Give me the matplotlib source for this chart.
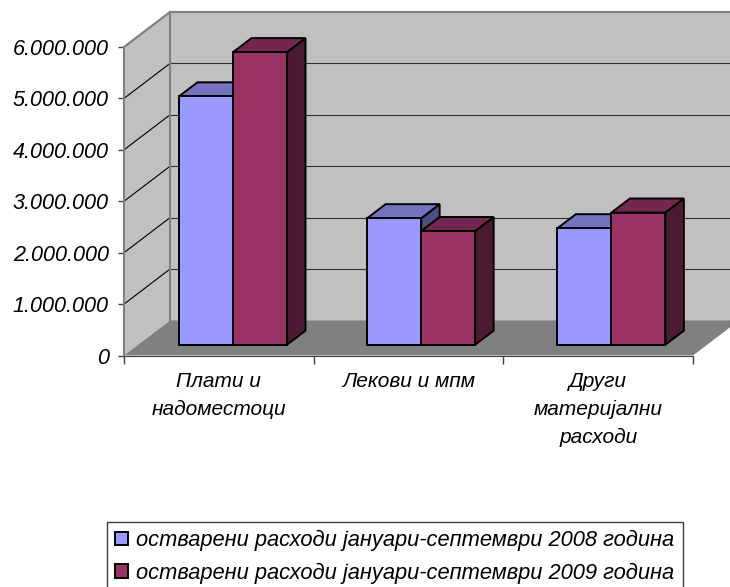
#!/usr/bin/python3
import matplotlib
matplotlib.use("Agg")
import matplotlib.pyplot as plt
from matplotlib.patches import Polygon, Patch

plt.rcParams['font.family'] = ['Liberation Sans', 'DejaVu Sans']
plt.rcParams['font.style'] = 'italic'

categories = ["Плати и\nнадоместоци", "Лекови и мпм", "Други\nматеријални\nрасходи"]
series_names = ["остварени расходи јануари-септември 2008 година",
                "остварени расходи јануари-септември 2009 година"]
values_2008 = [4830000, 2460000, 2265000]
values_2009 = [5690000, 2210000, 2570000]
y_ticks = [0, 1000000, 2000000, 3000000, 4000000, 5000000, 6000000]
y_labels = ["0", "1.000.000", "2.000.000", "3.000.000", "4.000.000", "5.000.000", "6.000.000"]

W, H = 730, 587
fig = plt.figure(figsize=(W / 100, H / 100), dpi=100)
ax = fig.add_axes([124 / W, 1 - 355.5 / H, (693 - 124) / W, (355.5 - 47) / H])
ax.set_xlim(0, 3)
ax.set_ylim(0, 6000000)

# 3d look: depth in data units, one full depth is 46px right and 35px up
px_x = 3 / (693 - 124)
px_y = 6000000 / (355.5 - 47)
DX = 46 * px_x
DY = 35 * px_y


def proj(x, y, d):
    return (x + d * DX, y + d * DY)


def poly(pts, color, edge='none', lw=0, z=1):
    p = Polygon(pts, closed=True, facecolor=color, edgecolor=edge, linewidth=lw,
                zorder=z, clip_on=False, joinstyle='miter')
    ax.add_patch(p)


ax.patch.set_visible(False)
top = y_ticks[-1]
# walls and floor, the right side runs off the figure
poly([proj(0, 0, 1), proj(3.3, 0, 1), proj(3.3, top, 1), proj(0, top, 1)], '#C0C0C0', z=1)
poly([proj(0, 0, 0), proj(0, 0, 1), proj(0, top, 1), proj(0, top, 0)], '#C0C0C0', z=1)
poly([proj(0, 0, 0), proj(3, 0, 0), proj(3, 0, 1), proj(3.3, 0, 1), proj(0, 0, 1)], '#808080', z=2)

for t in y_ticks[1:]:
    ax.plot([proj(0, t, 0)[0], proj(0, t, 1)[0]], [proj(0, t, 0)[1], proj(0, t, 1)[1]],
            color='black', lw=0.8, zorder=2, clip_on=False)
    if t != top:
        ax.plot([proj(0, t, 1)[0], proj(3.3, t, 1)[0]], [proj(0, t, 1)[1]] * 2,
                color='#303030', lw=0.8, zorder=2, clip_on=False)

# wall borders
ax.plot([proj(0, 0, 0)[0], proj(0, top, 0)[0], proj(0, top, 1)[0], proj(3.3, top, 1)[0]],
        [proj(0, 0, 0)[1], proj(0, top, 0)[1], proj(0, top, 1)[1], proj(3.3, top, 1)[1]],
        color='#808080', lw=1.5, zorder=3, clip_on=False)
ax.plot([proj(0, 0, 1)[0], proj(0, top, 1)[0]], [proj(0, 0, 1)[1], proj(0, top, 1)[1]],
        color='#808080', lw=1.5, zorder=3, clip_on=False)

BAR_W = 54 * px_x
D0, D1 = 0.31, 0.71
centers = [0.5, 1.492, 2.495]
colors = [('#9999FF', '#7373BF', '#4D4D80'), ('#993366', '#732650', '#4D1A33')]

z = 5
for i in range(len(categories)):
    for j, vals in enumerate([values_2008, values_2009]):
        x0 = centers[i] + (j - 1) * BAR_W
        x1 = x0 + BAR_W
        v = vals[i]
        front, roof, side = colors[j]
        poly([proj(x1, 0, D0), proj(x1, 0, D1), proj(x1, v, D1), proj(x1, v, D0)], side, 'black', 1.4, z)
        poly([proj(x0, v, D0), proj(x1, v, D0), proj(x1, v, D1), proj(x0, v, D1)], roof, 'black', 1.4, z)
        poly([proj(x0, 0, D0), proj(x1, 0, D0), proj(x1, v, D0), proj(x0, v, D0)], front, 'black', 1.4, z)
        z += 1

for s in ['top', 'right']:
    ax.spines[s].set_visible(False)
ax.spines['left'].set_visible(False)
ax.spines['bottom'].set_color('#404040')
ax.spines['bottom'].set_zorder(4)

ax.set_yticks(y_ticks)
ax.set_yticklabels(y_labels, fontsize=15.6, style='italic')
ax.tick_params(axis='y', length=4, width=1, color='#404040', pad=7)
ax.set_xticks([0, 1, 2, 3])
ax.set_xticklabels([])
ax.set_xticks([0.5, 1.5, 2.5], minor=True)
ax.set_xticklabels(categories, minor=True, fontsize=15, style='italic', linespacing=1.6)
ax.tick_params(axis='x', which='major', length=6, width=1, color='#404040')
ax.tick_params(axis='x', which='minor', length=0, pad=12)

handles = [Patch(facecolor=colors[0][0], edgecolor='black', linewidth=1.4),
           Patch(facecolor=colors[1][0], edgecolor='black', linewidth=1.4)]
leg = fig.legend(handles, series_names, loc='upper left',
                 bbox_to_anchor=(107 / W, 1 - 522 / H), borderaxespad=0,
                 fancybox=False, edgecolor='#404040', framealpha=1,
                 handlelength=0.6, handleheight=0.6, handletextpad=0.37,
                 labelspacing=0.51, borderpad=0.37, prop={'style': 'italic', 'size': 15.75})
leg.get_frame().set_linewidth(1)

fig.savefig("out.png", dpi=100)
